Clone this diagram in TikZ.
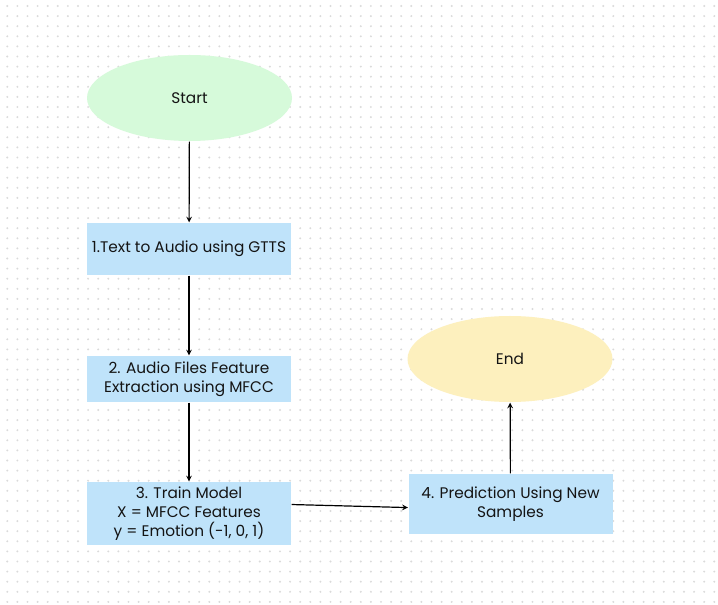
\documentclass[tikz,border=0pt]{standalone}
\usepackage{fontspec}
\setmainfont{Poppins}
\usetikzlibrary{arrows, shapes.geometric, positioning}

\definecolor{startgreen}{RGB}{214,250,218}
\definecolor{endyellow}{RGB}{253,240,190}
\definecolor{stepblue}{RGB}{191,227,250}
\definecolor{griddot}{RGB}{218,218,218}
\definecolor{inkgray}{RGB}{20,20,20}

\tikzset{
    terminal/.style={ellipse, minimum width=153.75pt, minimum height=64.5pt, inner sep=0pt, text=inkgray},
    stepbox/.style={rectangle, fill=stepblue, minimum width=153pt, inner sep=0pt, align=center, text=inkgray},
}

\begin{document}
\begin{tikzpicture}[x=0.75pt, y=-0.75pt, >=stealth, line width=0.9pt, font=\fontsize{11.5}{14.1}\selectfont]
                    \useasboundingbox (0, 0) rectangle (718, 605);
                    \fill[white] (0, 0) rectangle (718, 605);

                    % dotted canvas
                    \foreach \i in {0,...,70}
                        \foreach \j in {0,...,59}
                            \fill[griddot] (7.3 + 10.1*\i, 6 + 10.1*\j) circle (0.8pt);

                    \node[terminal, fill=startgreen] (start) at (189.5, 98) {Start};
                    \node[stepbox, minimum height=39pt] (s1) at (189, 249) {1.Text to Audio using GTTS};
                    \node[stepbox, minimum height=34.5pt] (s2) at (189, 379) {2. Audio Files Feature\\Extraction using MFCC};
                    \node[stepbox, minimum height=47.25pt] (s3) at (189, 513.5) {3. Train Model\\X = MFCC Features\\y = Emotion (-1, 0, 1)};
                    \node[stepbox, minimum height=45pt] (s4) at (510.5, 504) {4. Prediction Using New\\Samples};
                    \node[terminal, fill=endyellow] (end) at (510, 359) {End};

                    \draw
                    (start) edge[->] (s1)
                    (s1) edge[->] (s2)
                    (s2) edge[->] (s3)
                    (s3.5) edge[->] (s4.182)
                    (s4) edge[->] (end);
                \end{tikzpicture}
\end{document}
